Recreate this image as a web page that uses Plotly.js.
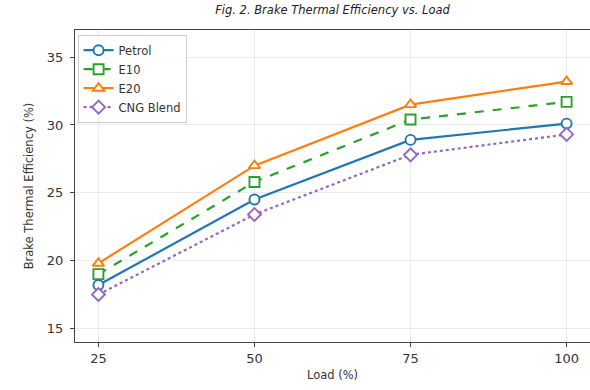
<!DOCTYPE html>
<html>
<head>
<meta charset="utf-8">
<script src="https://cdn.plot.ly/plotly-3.0.1.min.js"></script>
<style>body{margin:0;padding:0;background:#fff}#chart{width:590px;height:390px}</style>
</head>
<body>
<div id="chart"></div>
<script>
const loads = [25, 50, 75, 100];
const petrol = [18.2, 24.5, 28.9, 30.1];
const e10 = [19.0, 25.8, 30.4, 31.7];
const e20 = [19.8, 27.0, 31.5, 33.2];
const cng = [17.5, 23.4, 27.8, 29.3];
const seriesNames = ["Petrol", "E10", "E20", "CNG Blend"];
const xTicks = [25, 50, 75, 100];
const yTicks = [15, 20, 25, 30, 35];

const styles = [
  {color: "#1f77b4", symbol: "circle", dash: "solid"},
  {color: "#2ca02c", symbol: "square", dash: "dash"},
  {color: "#ff7f0e", symbol: "triangle-up", dash: "solid"},
  {color: "#9467bd", symbol: "diamond", dash: "dot"}
];
const values = [petrol, e10, e20, cng];

const traces = values.map((v, i) => ({
  x: loads, y: v, name: seriesNames[i], type: "scatter", mode: "lines+markers",
  line: {color: styles[i].color, width: 2.2, dash: styles[i].dash},
  marker: {symbol: styles[i].symbol, size: 10, color: "#ffffff", line: {color: styles[i].color, width: 1.9}}
}));

const layout = {
  width: 590, height: 390,
  margin: {l: 75, r: 0, t: 30, b: 48},
  paper_bgcolor: "#fff", plot_bgcolor: "#fff",
  font: {family: "DejaVu Sans", color: "#333"},
  title: {text: "<i>Fig. 2. Brake Thermal Efficiency vs. Load</i>", font: {size: 11.5, color: "#222"}, xref: "paper", x: 0.5, xanchor: "center", yref: "container", y: 0.985, yanchor: "top"},
  xaxis: {
    range: [21.25, 103.75], tickvals: xTicks, ticktext: xTicks.map(String),
    showline: true, mirror: true, linecolor: "#444", linewidth: 1,
    ticks: "outside", ticklen: 4, tickcolor: "#444",
    showgrid: true, gridcolor: "rgba(0,0,0,0.08)", zeroline: false,
    tickfont: {size: 13, color: "#333"},
    title: {text: "Load (%)", font: {size: 11.5, color: "#333"}, standoff: 6}
  },
  yaxis: {
    range: [14, 37], tickvals: yTicks, ticktext: yTicks.map(String),
    showline: true, mirror: true, linecolor: "#444", linewidth: 1,
    ticks: "outside", ticklen: 4, tickcolor: "#444", ticklabelstandoff: 4,
    showgrid: true, gridcolor: "rgba(0,0,0,0.08)", zeroline: false,
    tickfont: {size: 13, color: "#333"},
    title: {text: "Brake Thermal Efficiency (%)", font: {size: 11.5, color: "#333"}, standoff: 10}
  },
  legend: {
    x: 0.005, y: 0.985, xanchor: "left", yanchor: "top",
    bgcolor: "rgba(255,255,255,0.85)", bordercolor: "#ccc", borderwidth: 1,
    font: {size: 11.5, color: "#333"}, tracegroupgap: 0, itemwidth: 30
  },
  showlegend: true
};

Plotly.newPlot("chart", traces, layout, {displayModeBar: false, staticPlot: true});
</script>
</body>
</html>
